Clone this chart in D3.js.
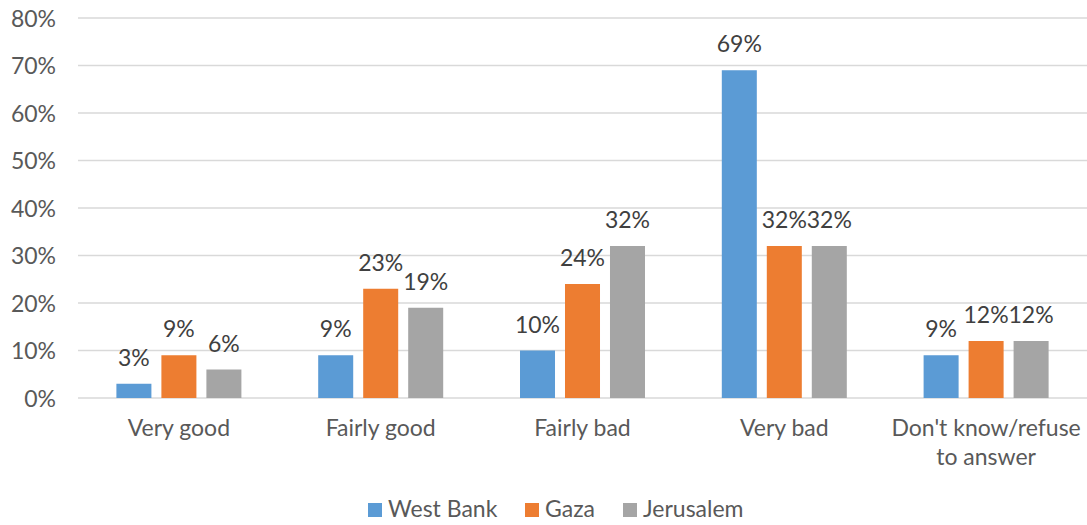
<!DOCTYPE html>
<html><head><meta charset="utf-8">
<script src="https://cdn.jsdelivr.net/npm/d3@7"></script>
<style>body{margin:0;background:#fff;}svg{display:block;font-family:Lato,"Open Sans",sans-serif;font-weight:400;}</style>
</head><body><svg id="c" width="1087" height="525"></svg>
<script>
const categories = ["Very good","Fairly good","Fairly bad","Very bad","Don't know/refuse to answer"];
const series = ["West Bank","Gaza","Jerusalem"];
const westBank = [3,9,10,69,9];
const gaza = [9,23,24,32,12];
const jerusalem = [6,19,32,32,12];
const yTicks = [0,10,20,30,40,50,60,70,80];
const colors = ["#5B9BD5","#ED7D31","#A5A5A5"];
const values = [westBank,gaza,jerusalem];

(function(){
const svg = d3.select("#c");
const mLeft = 78, mRight = 1087, mTop = 18, mBottom = 398;
const fs = 23;
const x = d3.scaleBand().domain(categories).range([mLeft,mRight]);
const inner = d3.scaleBand().domain(series).range([-62.5,62.5]).paddingInner(0.222);
const y = d3.scaleLinear().domain([0,80]).range([mBottom,mTop]);
const textColor = "#595959";

svg.append("g").selectAll("line").data(yTicks).join("line")
  .attr("x1",mLeft).attr("x2",mRight).attr("y1",d=>y(d)).attr("y2",d=>y(d))
  .attr("stroke","#D9D9D9").attr("stroke-width",1.5);
svg.append("g").selectAll("text").data(yTicks).join("text")
  .attr("x",56).attr("y",d=>y(d)+8.5).attr("text-anchor","end")
  .attr("font-size",fs).attr("fill",textColor).text(d=>d+"%");

series.forEach((s,si)=>{
  const g = svg.append("g");
  g.selectAll("rect").data(categories).join("rect")
    .attr("x",c=>x(c)+x.bandwidth()/2+inner(s))
    .attr("width",inner.bandwidth())
    .attr("y",(c,i)=>y(values[si][i]))
    .attr("height",(c,i)=>mBottom-y(values[si][i]))
    .attr("fill",colors[si]);
  g.selectAll("text").data(categories).join("text")
    .attr("x",c=>x(c)+x.bandwidth()/2+inner(s)+inner.bandwidth()/2)
    .attr("y",(c,i)=>y(values[si][i])-18)
    .attr("text-anchor","middle").attr("font-size",fs).attr("fill","#404040")
    .text((c,i)=>values[si][i]+"%");
});

const catLines = {"Don't know/refuse to answer":["Don't know/refuse","to answer"]};
categories.forEach(c=>{
  const lines = catLines[c] || [c];
  const t = svg.append("text").attr("text-anchor","middle").attr("font-size",fs).attr("fill",textColor);
  lines.forEach((l,i)=>t.append("tspan").attr("x",x(c)+x.bandwidth()/2).attr("y",436+i*29).text(l));
});

const legX = [368,525,623];
series.forEach((s,i)=>{
  svg.append("rect").attr("x",legX[i]).attr("y",503).attr("width",14).attr("height",14).attr("fill",colors[i]);
  svg.append("text").attr("x",legX[i]+20).attr("y",517).attr("font-size",fs).attr("fill",textColor).text(s);
});
})();
</script></body></html>
